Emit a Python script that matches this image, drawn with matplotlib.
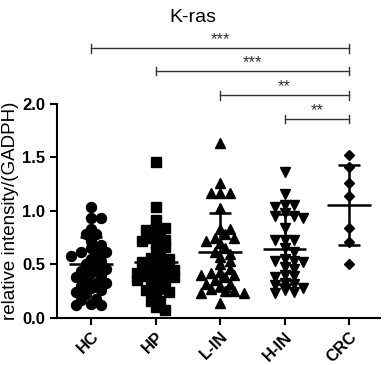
import numpy as np
import matplotlib
matplotlib.use('Agg')
import matplotlib.pyplot as plt

plt.rcParams['font.family'] = ['Liberation Sans', 'DejaVu Sans']

# data
groups = ['HC', 'HP', 'L-IN', 'H-IN', 'CRC']
hc = [1.04, 0.93, 0.93, 0.83, 0.78, 0.78, 0.72, 0.68, 0.65, 0.62, 0.62, 0.60,
      0.58, 0.55, 0.53, 0.50, 0.48, 0.46, 0.44, 0.42, 0.40, 0.38, 0.36, 0.33,
      0.33, 0.30, 0.28, 0.26, 0.24, 0.22, 0.18, 0.17, 0.13, 0.12, 0.12]
hp = [1.46, 1.04, 0.92, 0.84, 0.84, 0.82, 0.78, 0.75, 0.73, 0.72, 0.70, 0.66,
      0.63, 0.58, 0.56, 0.55, 0.52, 0.50, 0.48, 0.46, 0.45, 0.43, 0.42, 0.40,
      0.39, 0.38, 0.36, 0.35, 0.33, 0.31, 0.28, 0.26, 0.24, 0.22, 0.16, 0.16,
      0.10, 0.07]
lin = [1.64, 1.26, 1.17, 1.17, 1.17, 1.03, 0.83, 0.83, 0.78, 0.75, 0.75, 0.72,
       0.70, 0.65, 0.62, 0.60, 0.57, 0.53, 0.50, 0.46, 0.43, 0.42, 0.40, 0.40,
       0.38, 0.35, 0.32, 0.32, 0.30, 0.27, 0.25, 0.25, 0.23, 0.23, 0.14]
hin = [1.36, 1.16, 1.06, 1.06, 1.04, 0.98, 0.95, 0.95, 0.93, 0.84, 0.73, 0.73,
       0.73, 0.65, 0.62, 0.55, 0.53, 0.53, 0.52, 0.48, 0.46, 0.40, 0.39, 0.38,
       0.33, 0.32, 0.31, 0.28, 0.26, 0.24, 0.23]
crc = [1.52, 1.41, 1.26, 1.14, 0.84, 0.71, 0.50]
means = [0.505, 0.525, 0.62, 0.645, 1.055]
sds = [0.255, 0.29, 0.365, 0.325, 0.375]

# significance brackets: (from group, to group, height, label)
brackets = [(0, 4, 2.52, '***'), (1, 4, 2.31, '***'),
            (2, 4, 2.08, '**'), (3, 4, 1.86, '**')]

values = [hc, hp, lin, hin, crc]
markers = ['o', 's', '^', 'v', 'D']
msizes = [7.2, 6.6, 6.8, 6.8, 4.8]

fig = plt.figure(figsize=(3.85, 3.65), dpi=100)
ax = fig.add_axes([0.148, 0.129, 0.839, 0.586])

px_x = 64.5   # pixels per x unit
px_y = 107.0  # pixels per y unit


def swarm(vals, diam, gap):
    # spread points sideways, allowing some overlap (layout only)
    placed = []
    out = []
    for v in vals:
        for k in range(60):
            step = (k + 1) // 2 * (1 if k % 2 else -1)
            dx = step * diam * 0.5
            ok = True
            for (px, py) in placed:
                if (px - dx) ** 2 + ((py - v) * px_y) ** 2 < (diam * gap) ** 2:
                    ok = False
                    break
            if ok:
                break
        placed.append((dx, v))
        out.append(dx / px_x)
    return np.array(out)


for i, vals in enumerate(values):
    vals = np.array(vals)
    offs = swarm(vals, msizes[i] * 1.39, 0.72 if i < 4 else 1.0)
    ax.plot(i + offs, vals, linestyle='none', marker=markers[i],
            ms=msizes[i], color='black', mec='black', zorder=2)
    m, s = means[i], sds[i]
    ax.hlines(m, i - 0.34, i + 0.34, color='black', lw=1.8, zorder=3)
    ax.vlines(i, m - s, m + s, color='black', lw=1.8, zorder=3)
    ax.hlines([m - s, m + s], i - 0.17, i + 0.17, color='black', lw=1.8, zorder=3)

for a, b, h, lab in brackets:
    ax.plot([a, b], [h, h], color='#333333', lw=1.0, clip_on=False)
    ax.plot([a, a], [h - 0.04, h + 0.04], color='#333333', lw=1.0, clip_on=False)
    ax.plot([b, b], [h - 0.04, h + 0.04], color='#333333', lw=1.0, clip_on=False)
    ax.text((a + b) / 2, h + 0.01, lab, ha='center', va='bottom',
            fontsize=12, color='#333333', clip_on=False)

ax.set_xlim(-0.53, 4.48)
ax.set_ylim(0, 2.0)
ax.set_yticks([0, 0.5, 1.0, 1.5, 2.0])
ax.set_yticklabels(['0.0', '0.5', '1.0', '1.5', '2.0'], fontweight='bold', fontsize=12)
ax.set_xticks(range(5))
ax.set_xticklabels(groups, rotation=45, ha='right', rotation_mode='anchor',
                   fontweight='bold', fontsize=12)
ax.tick_params(width=1.5, length=5)
ax.tick_params(axis='x', pad=3)
for sp in ['top', 'right']:
    ax.spines[sp].set_visible(False)
for sp in ['left', 'bottom']:
    ax.spines[sp].set_linewidth(1.5)

ax.set_ylabel('relative intensity/(GADPH)', fontsize=13.5, labelpad=2)
fig.text(0.5, 0.975, 'K-ras', ha='center', va='top', fontsize=14)

fig.savefig('out.png', dpi=100)
